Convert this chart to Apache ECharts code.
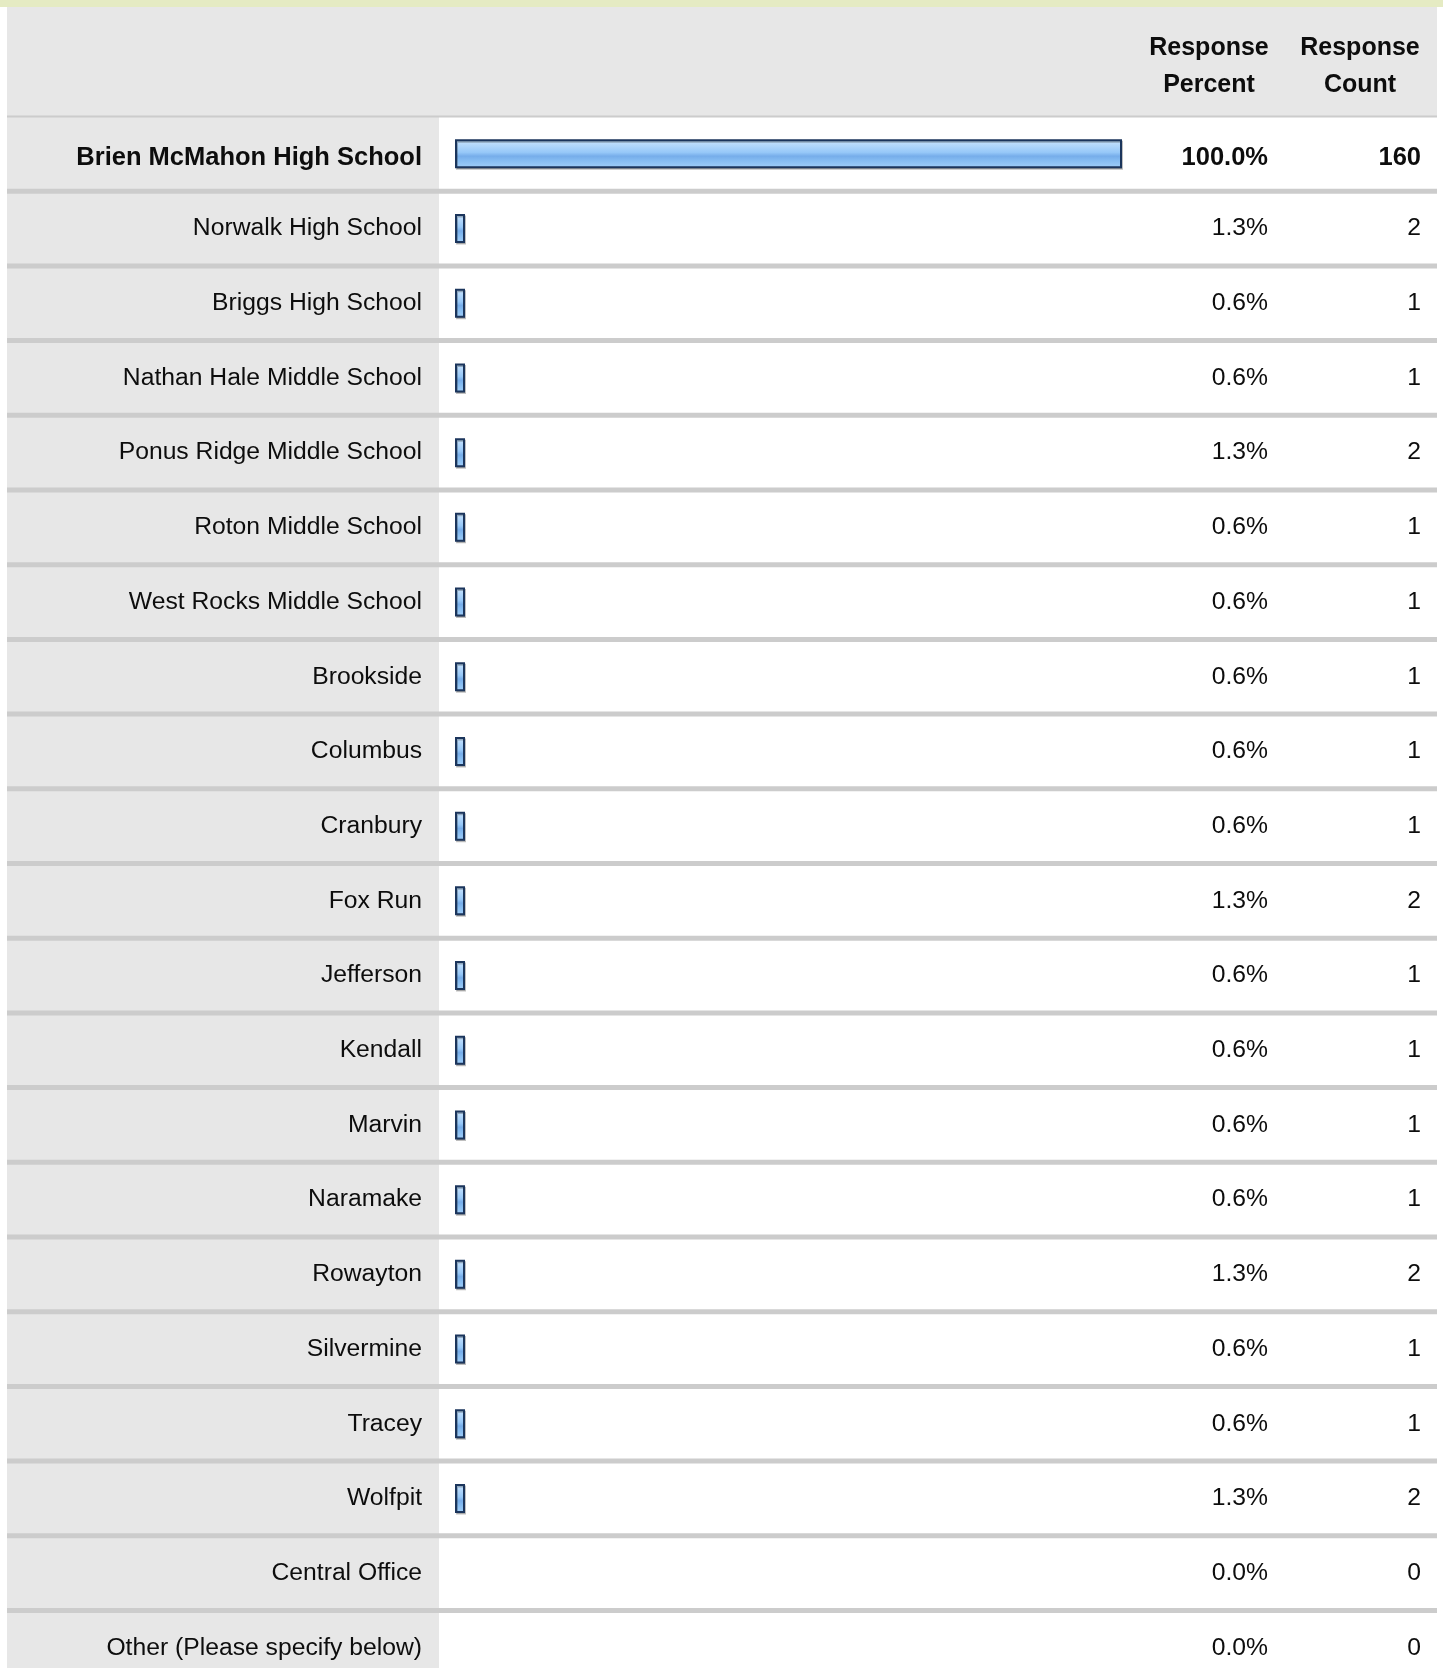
<!DOCTYPE html>
<html>
<head>
<meta charset="utf-8">
<script src="https://cdn.jsdelivr.net/npm/echarts@6/dist/echarts.min.js"></script>
<style>
html,body{margin:0;padding:0;background:#ffffff;overflow:hidden}
#c{width:1443px;height:1700px}
</style>
</head>
<body>
<div id="c"></div>
<script>
const categories = [
  'Brien McMahon High School', 'Norwalk High School', 'Briggs High School',
  'Nathan Hale Middle School', 'Ponus Ridge Middle School', 'Roton Middle School',
  'West Rocks Middle School', 'Brookside', 'Columbus', 'Cranbury', 'Fox Run',
  'Jefferson', 'Kendall', 'Marvin', 'Naramake', 'Rowayton', 'Silvermine',
  'Tracey', 'Wolfpit', 'Central Office', 'Other (Please specify below)'
];
const percents = [100.0, 1.3, 0.6, 0.6, 1.3, 0.6, 0.6, 0.6, 0.6, 0.6, 1.3, 0.6, 0.6, 0.6, 0.6, 1.3, 0.6, 0.6, 1.3, 0.0, 0.0];
const counts = [160, 2, 1, 1, 2, 1, 1, 1, 1, 1, 2, 1, 1, 1, 1, 2, 1, 1, 2, 0, 0];
const headers = ['Response\nPercent', 'Response\nCount'];

const FONT = '"Liberation Sans", Arial, Helvetica, sans-serif';
const TXT = '#0d0d0d';
// first row (the top answer) is shown in bold, sitting slightly lower in its row
const asAxisData = (arr, align) => arr.map((v, i) => (i === 0
  ? { value: v, textStyle: { fontWeight: 'bold', fontSize: 25.5, align: align, verticalAlign: 'top', lineHeight: 8.6 } }
  : { value: v }));

const chart = echarts.init(document.getElementById('c'), null, { renderer: 'canvas' });

const labelBase = { interval: 0, fontSize: 24.7, fontFamily: FONT, color: TXT };

chart.setOption({
  backgroundColor: '#ffffff',
  animation: false,
  grid: { left: 455, width: 667, top: 116.5, height: 21 * 74.7, outerBoundsMode: 'none', containLabel: false },
  xAxis: { type: 'value', min: 0, max: 100, show: false },
  yAxis: [
    {
      type: 'category', inverse: true, data: asAxisData(categories, 'right'), z: 5,
      axisLine: { show: false }, axisTick: { show: false }, splitLine: { show: false },
      axisLabel: Object.assign({ margin: 33, align: 'right' }, labelBase)
    },
    {
      type: 'category', inverse: true, position: 'right', z: 5,
      data: asAxisData(percents.map(p => p.toFixed(1) + '%'), 'right'),
      axisLine: { show: false }, axisTick: { show: false }, splitLine: { show: false },
      axisLabel: Object.assign({ margin: 146, align: 'right' }, labelBase)
    },
    {
      type: 'category', inverse: true, position: 'right', z: 5,
      data: asAxisData(counts.map(String), 'right'),
      axisLine: { show: false }, axisTick: { show: false }, splitLine: { show: false },
      axisLabel: Object.assign({ margin: 299, align: 'right' }, labelBase)
    }
  ],
  graphic: [
    { type: 'rect', shape: { x: 0, y: 0, width: 1443, height: 7 }, style: { fill: '#e5ebc3' }, silent: true },
    { type: 'rect', shape: { x: 7, y: 7, width: 1430, height: 110 }, style: { fill: '#e7e7e7' }, silent: true },
    {
      type: 'text', x: 1209, y: 29, silent: true,
      style: { text: headers[0], fontSize: 25, fontWeight: 'bold', fontFamily: FONT, fill: TXT,
               align: 'center', verticalAlign: 'top', lineHeight: 37.5 }
    },
    {
      type: 'text', x: 1360, y: 29, silent: true,
      style: { text: headers[1], fontSize: 25, fontWeight: 'bold', fontFamily: FONT, fill: TXT,
               align: 'center', verticalAlign: 'top', lineHeight: 37.5 }
    }
  ],
  series: [
    {
      type: 'custom', z: 0, silent: true, clip: false,
      data: categories.map((c, i) => [0, i]),
      encode: { x: 0, y: 1 },
      renderItem: function (params, api) {
        const idx = api.value(1);
        const p = api.coord([0, idx]);
        const h = api.size([0, 1])[1];
        const top = p[1] - h / 2;
        return {
          type: 'group',
          children: [
            { type: 'rect', shape: { x: 7, y: top, width: 432, height: h }, style: { fill: '#e7e7e7' } },
            { type: 'rect', z2: 10,
              shape: { x: 7, y: idx === 0 ? top - 1 : top - 2.5, width: 1430, height: idx === 0 ? 2 : 5 },
              style: { fill: '#cccccc' } }
          ]
        };
      }
    },
    {
      type: 'bar', z: 3, silent: true,
      data: percents.map(v => (v === 0 ? '-' : v)),
      barWidth: 29,
      barMinHeight: 10,
      itemStyle: {
        color: new echarts.graphic.LinearGradient(0, 0, 0, 1, [
          { offset: 0, color: '#cbe5fd' },
          { offset: 0.25, color: '#aed5fb' },
          { offset: 0.45, color: '#96c8f8' },
          { offset: 0.58, color: '#76adea' },
          { offset: 0.72, color: '#84bbf1' },
          { offset: 1, color: '#a2cff9' }
        ]),
        borderColor: '#1b355c',
        borderWidth: 2,
        shadowColor: 'rgba(0,0,0,0.25)',
        shadowOffsetX: 1,
        shadowOffsetY: 1.5,
        shadowBlur: 0
      }
    }
  ]
});
</script>
</body>
</html>
